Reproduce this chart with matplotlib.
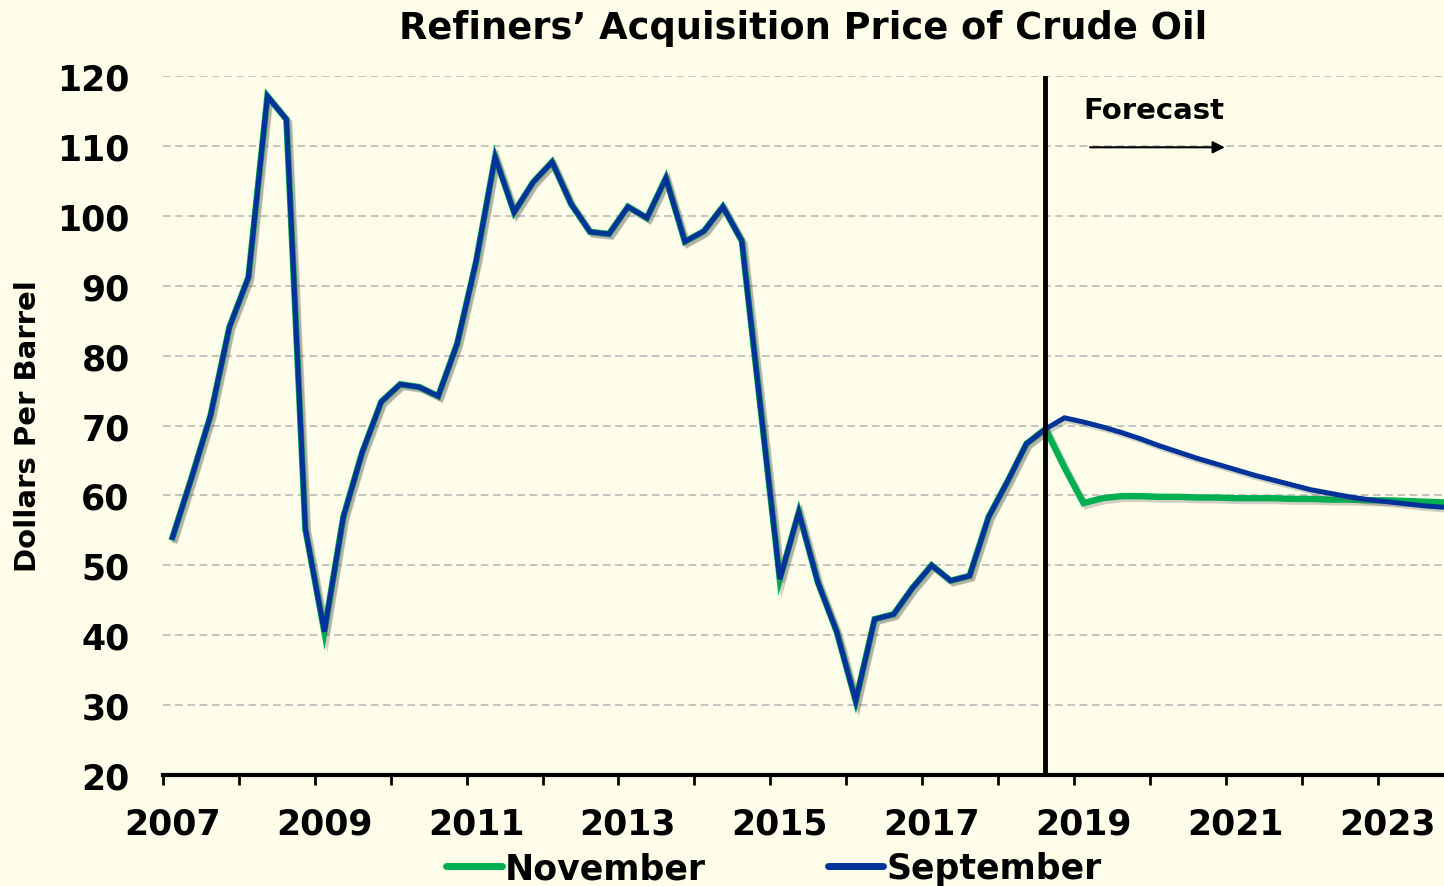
import matplotlib.pyplot as plt
import matplotlib.patheffects as pe
from matplotlib.ticker import FixedLocator, NullFormatter
import numpy as np

plt.rcParams['font.family'] = 'DejaVu Sans'
plt.rcParams['font.weight'] = 'bold'

bg = '#FEFEEB'
green = '#00B050'
blue = '#003399'

# quarterly data, 2007Q1 .. 2023Q4
start_year = 2007
history = [54.0, 62.5, 71.4, 84.1, 91.2, 117.1, 113.8, 55.2,
           40.5, 56.9, 66.2, 73.4, 75.9, 75.5, 74.2, 81.7,
           93.5, 108.4, 100.5, 104.8, 107.7, 101.7, 97.7, 97.4,
           101.3, 99.7, 105.4, 96.3, 97.8, 101.3, 96.4, 72.2,
           48.0, 57.6, 47.6, 40.5, 30.6, 42.3, 43.0, 46.8,
           50.0, 47.8, 48.5, 56.9, 62.0, 67.4, 69.5]
nov_forecast = [64.0, 58.9, 59.6, 59.9, 59.9, 59.8, 59.8, 59.7, 59.7, 59.6,
                59.6, 59.6, 59.5, 59.5, 59.4, 59.4, 59.3, 59.3, 59.2, 59.1, 59.0]
sep_forecast = [71.1, 70.5, 69.8, 69.0, 68.1, 67.1, 66.2, 65.3, 64.5, 63.7,
                62.9, 62.2, 61.5, 60.8, 60.3, 59.8, 59.4, 59.1, 58.8, 58.5, 58.3]
forecast_start = len(history) - 1   # 2018Q3, last historical quarter

november = history + nov_forecast
september = history + sep_forecast
q = np.arange(len(november))
years = list(range(start_year, 2024))

fig = plt.figure(figsize=(14.44, 8.87), dpi=100)
fig.patch.set_facecolor(bg)
ax = fig.add_axes([0.1129, 0.1251, 0.8871, 0.7881])
ax.set_facecolor(bg)

shadow = [pe.SimpleLineShadow(offset=(2, -2), shadow_color='#666666', alpha=0.3),
          pe.Normal()]
ax.plot(q, november, color=green, lw=4.6, solid_joinstyle='miter',
        label='November', path_effects=shadow, zorder=3)
ax.plot(q, september, color=blue, lw=3.6, solid_joinstyle='miter',
        label='September', path_effects=shadow, zorder=4)

ax.axvline(forecast_start, color='black', lw=3.5, zorder=5)

ax.set_xlim(-0.5, len(november) - 1)
ax.set_ylim(20, 120)
ax.set_yticks(range(20, 121, 10))
ax.yaxis.grid(True, color='#B4B4B4', linestyle=(0, (5, 3)), lw=1.1)
ax.set_axisbelow(True)

ax.xaxis.set_major_locator(FixedLocator([4 * (y - start_year) for y in years[::2]]))
ax.set_xticklabels([str(y) for y in years[::2]])
ax.xaxis.set_minor_locator(FixedLocator([4 * k - 0.5 for k in range(len(years) + 1)]))
ax.xaxis.set_minor_formatter(NullFormatter())
ax.tick_params(axis='x', which='major', length=0, pad=23, labelsize=25)
ax.tick_params(axis='x', which='minor', length=7, width=2, color='black', direction='out')
ax.tick_params(axis='y', length=0, pad=24, labelsize=25)

for s in ['left', 'right', 'top']:
    ax.spines[s].set_visible(False)
ax.spines['bottom'].set_linewidth(3)

ax.set_ylabel('Dollars Per Barrel', fontsize=21, fontweight='bold', labelpad=11)
ax.set_title('Refiners\u2019 Acquisition Price of Crude Oil', fontsize=26.5,
             fontweight='bold', pad=27)

ax.text(forecast_start + 2, 115.1, 'Forecast', fontsize=21, fontweight='bold',
        ha='left', va='center')
ax.annotate('', xy=(forecast_start + 9.6, 109.8), xytext=(forecast_start + 2.2, 109.8),
            arrowprops=dict(arrowstyle='-|>', color='black', lw=1.5, mutation_scale=18))

leg = fig.legend(loc='center', bbox_to_anchor=(0.536, 0.02), ncol=2, frameon=False,
                 fontsize=25, handlelength=1.6, handletextpad=0.1, columnspacing=3.5,
                 borderpad=0)
for line in leg.get_lines():
    line.set_linewidth(5)
    line.set_solid_capstyle('round')
    line.set_path_effects([])

plt.savefig('out.png', dpi=100, facecolor=bg)
